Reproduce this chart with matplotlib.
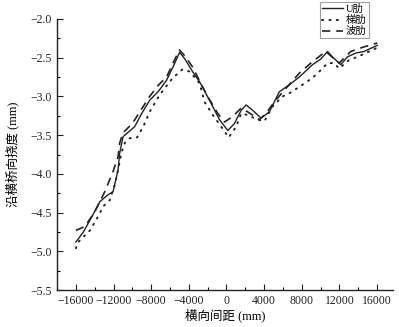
import numpy as np
import matplotlib
matplotlib.use('Agg')
import matplotlib.pyplot as plt
from matplotlib.ticker import MultipleLocator

plt.rcParams['font.family'] = ['Liberation Serif', 'Noto Sans CJK SC']
plt.rcParams['axes.unicode_minus'] = True

# -- U肋 (solid)
x_u = [-16000, -15200, -14200, -13460, -12700, -12050, -11520, -11340, -10990, -9750,
       -9000, -8160, -7200, -6360, -5600, -4980, -4400, -3600, -2860, -1800, -740,
       140, 850, 1560, 2090, 2800, 3680, 4560, 5620, 6680, 7740, 9150,
       10000, 10740, 11260, 12150, 12850, 13740, 14620, 16030]
y_u = [-4.88, -4.75, -4.53, -4.36, -4.28, -4.23, -3.95, -3.73, -3.52, -3.39,
       -3.22, -3.05, -2.93, -2.79, -2.60, -2.43, -2.52, -2.68, -2.81, -3.05, -3.30,
       -3.44, -3.35, -3.18, -3.11, -3.18, -3.28, -3.20, -2.94, -2.85, -2.75, -2.59,
       -2.52, -2.42, -2.49, -2.59, -2.49, -2.44, -2.42, -2.34]

# -- 梯肋 (dotted)
x_t = [-16000, -15750, -14500, -13640, -13100, -12400, -11870, -11520, -11160, -10800,
       -10280, -9500, -8800, -8160, -7100, -5700, -4660, -3900, -2860, -2330, -1450,
       -560, 240, 1030, 1560, 2260, 3320, 4030, 4900, 5970, 6680, 7700, 9150,
       10030, 10740, 11440, 11970, 13030, 13910, 15860]
y_t = [-4.96, -4.88, -4.73, -4.55, -4.42, -4.34, -4.14, -3.95, -3.73, -3.60,
       -3.54, -3.53, -3.38, -3.20, -2.98, -2.76, -2.65, -2.68, -2.83, -3.07, -3.24,
       -3.39, -3.53, -3.39, -3.22, -3.24, -3.30, -3.32, -3.13, -3.00, -2.96, -2.88, -2.76,
       -2.66, -2.57, -2.57, -2.64, -2.53, -2.49, -2.38]

# -- 波肋 (dashed)
x_b = [-16000, -15050, -13990, -12930, -12050, -11520, -11340, -11000, -10000,
       -9000, -8160, -7200, -6360, -5600, -5000, -4400, -3600, -2860, -2000, -920,
       -210, 670, 1560, 2260, 3500, 4200, 5090, 6150, 7740, 9150,
       10560, 11970, 13210, 14620, 16030]
y_b = [-4.73, -4.68, -4.49, -4.23, -3.97, -3.78, -3.60, -3.47, -3.35,
       -3.16, -3.00, -2.85, -2.75, -2.55, -2.40, -2.48, -2.62, -2.80, -3.00, -3.22,
       -3.33, -3.26, -3.15, -3.20, -3.30, -3.22, -3.07, -2.92, -2.70, -2.55,
       -2.42, -2.57, -2.42, -2.36, -2.31]

fig = plt.figure(figsize=(3.99, 3.27), dpi=100)
ax = fig.add_axes([0.143, 0.113, 0.842, 0.829])

l1, = ax.plot(x_u, y_u, color='#222222', lw=1.0, ls='-')
l2, = ax.plot(x_t, y_t, color='#222222', lw=1.4, ls=(0, (0.6, 3.2)), dash_capstyle='round')
l3, = ax.plot(x_b, y_b, color='#222222', lw=1.2, ls=(0, (5, 3.5)))

ax.set_xlim(-18000, 17700)
ax.set_ylim(-5.5, -2.0)
ax.set_xticks(np.arange(-16000, 16001, 4000))
ax.set_yticks(np.arange(-5.5, -1.99, 0.5))
ax.set_yticklabels([f'{v:.1f}'.replace('-', '\u2212') for v in np.arange(-5.5, -1.99, 0.5)])
ax.xaxis.set_minor_locator(MultipleLocator(2000))
ax.yaxis.set_minor_locator(MultipleLocator(0.25))
ax.tick_params(which='major', direction='in', length=4, width=0.8, labelsize=8.5, colors='#222222')
ax.tick_params(which='minor', direction='in', length=2, width=0.8)
ax.spines['top'].set_visible(False)
ax.spines['right'].set_visible(False)
for s in ['left', 'bottom']:
    ax.spines[s].set_linewidth(1.0)
    ax.spines[s].set_color('#222222')

ax.set_xlabel('横向间距 (mm)', fontsize=9, labelpad=1)
ax.set_ylabel('沿横桥向挠度 (mm)', fontsize=9, labelpad=8)

leg = fig.legend([l1, l2, l3], ['U肋', '梯肋', '波肋'], loc='upper left',
                 bbox_to_anchor=(320 / 399, 1 - 2 / 327), fontsize=7.5, frameon=True,
                 fancybox=False, edgecolor='#888888', handlelength=2.0, handletextpad=0.3,
                 borderpad=0.2, labelspacing=0.1, borderaxespad=0)
leg.get_frame().set_linewidth(0.8)

fig.savefig('out.png', dpi=100)
